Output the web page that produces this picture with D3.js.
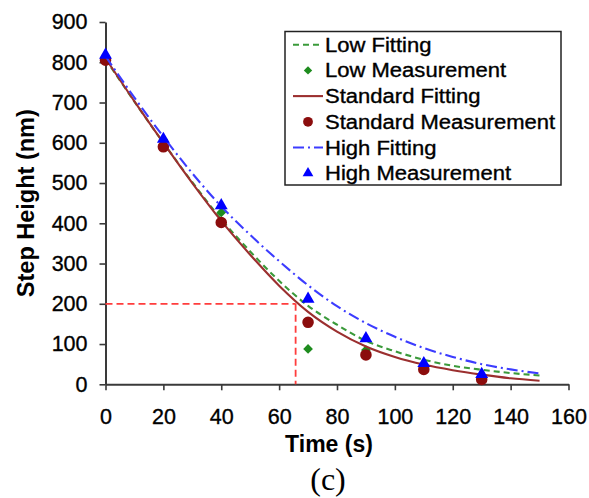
<!DOCTYPE html>
<html>
<head>
<meta charset="utf-8">
<script src="https://cdn.jsdelivr.net/npm/d3@7"></script>
<style>
  html, body { margin: 0; padding: 0; background: #fff; }
  svg { display: block; }
  text { font-family: "Liberation Sans", Arial, Helvetica, sans-serif; fill: #000; }
  .heavy { stroke: #000; stroke-width: 0.35px; }
</style>
</head>
<body>
<svg id="chart" width="589" height="498"></svg>
<script>
// ---- data ----
const xTicks = [0, 20, 40, 60, 80, 100, 120, 140, 160];
const yTicks = [0, 100, 200, 300, 400, 500, 600, 700, 800, 900];

const fitTime = [0, 10, 20, 30, 40, 50, 60, 70, 80, 90, 100, 110, 120, 130, 140, 150];
const lowFit = [808, 702, 600, 502, 410, 330, 257, 195, 148, 108, 82, 61, 46, 36, 28, 22];
const standardFit = [810, 703, 600, 500, 406, 322, 245, 180, 131, 94, 68, 49, 35, 24, 15, 9];
const highFit = [815, 712, 615, 524, 442, 371, 306, 246, 194, 152, 118, 90, 68, 50, 37, 27];

const measTime = [0, 20, 40, 70, 90, 110, 130];
const lowMeas = [803, 607, 427, 88, 85, 45, 18];
const standardMeas = [805, 590, 402, 154, 73, 37, 12];
const highMeas = [818, 609, 444, 212, 114, 52, 25];

const guideTime = 65.7;
const guideHeight = 200;

const legendLabels = ["Low Fitting", "Low Measurement", "Standard Fitting",
                      "Standard Measurement", "High Fitting", "High Measurement"];

// ---- styles ----
const C = {
  lowLine: "#3a9a3a", lowMark: "#1e8c1e",
  stdLine: "#9b2f2f", stdMark: "#8b0d0d",
  highLine: "#3c3cff", highMark: "#0000ff",
  guide: "#ff3d3d", axis: "#3a3a3a"
};
const DASH = { low: "6,4", std: null, high: "11,4,2,4" };

const svg = d3.select("#chart");
const x = d3.scaleLinear().domain([0, 160]).range([105.5, 568.5]);
const y = d3.scaleLinear().domain([0, 900]).range([384.3, 22]);

// ---- axes ----
const xAxis = svg.append("g")
  .attr("transform", `translate(0,${y(0)})`)
  .call(d3.axisBottom(x).tickValues(xTicks).tickSize(6).tickSizeOuter(0).tickPadding(18).tickFormat(d3.format("d")));
const yAxis = svg.append("g")
  .attr("transform", `translate(${x(0)},0)`)
  .call(d3.axisLeft(y).tickValues(yTicks).tickSize(6).tickSizeOuter(0).tickPadding(12).tickFormat(d3.format("d")));
[xAxis, yAxis].forEach(g => {
  g.attr("font-size", 21.5).attr("font-family", '"Liberation Sans", Arial, sans-serif');
  g.select(".domain").attr("stroke", C.axis).attr("stroke-width", 2);
  g.selectAll(".tick line").attr("stroke", C.axis).attr("stroke-width", 1.6);
  g.selectAll(".tick text").attr("font-size", 21.5).attr("fill", "#000").attr("class", "heavy");
});
xAxis.selectAll(".tick text").attr("dy", "0.71em");

// ---- guide lines ----
svg.append("line")
  .attr("x1", x(0)).attr("x2", x(guideTime)).attr("y1", y(guideHeight)).attr("y2", y(guideHeight))
  .attr("stroke", C.guide).attr("stroke-width", 1.8).attr("stroke-dasharray", "7,4");
svg.append("line")
  .attr("x1", x(guideTime)).attr("x2", x(guideTime)).attr("y1", y(guideHeight)).attr("y2", y(0))
  .attr("stroke", C.guide).attr("stroke-width", 1.8).attr("stroke-dasharray", "7,4");

// ---- series ----
const line = d3.line().x(d => x(d[0])).y(d => y(d[1])).curve(d3.curveMonotoneX);
function drawFit(vals, color, dash) {
  svg.append("path")
    .datum(fitTime.map((t, i) => [t, vals[i]]))
    .attr("d", line).attr("fill", "none")
    .attr("stroke", color).attr("stroke-width", 2.1)
    .attr("stroke-dasharray", dash);
}
function drawMarks(vals, color, type, size) {
  svg.append("g").selectAll("path")
    .data(measTime.map((t, i) => [t, vals[i]]))
    .join("path")
    .attr("transform", d => `translate(${x(d[0])},${y(d[1])})`)
    .attr("d", d3.symbol().type(type).size(size))
    .attr("fill", color);
}

drawFit(lowFit, C.lowLine, DASH.low);
drawMarks(lowMeas, C.lowMark, d3.symbolDiamond2, 60);
drawFit(standardFit, C.stdLine, DASH.std);
drawMarks(standardMeas, C.stdMark, d3.symbolCircle, 105);
drawFit(highFit, C.highLine, DASH.high);
drawMarks(highMeas, C.highMark, d3.symbolTriangle, 72);

// ---- legend ----
const lg = svg.append("g");
lg.append("rect").attr("x", 285).attr("y", 31.5).attr("width", 276).attr("height", 153.5)
  .attr("fill", "#fff").attr("stroke", "#222").attr("stroke-width", 1.5);
const rowBase = 51.7, rowStep = 25.7;
const legendKinds = [
  { kind: "line", color: C.lowLine, dash: DASH.low },
  { kind: "mark", color: C.lowMark, type: d3.symbolDiamond2, size: 45 },
  { kind: "line", color: C.stdLine, dash: DASH.std },
  { kind: "mark", color: C.stdMark, type: d3.symbolCircle, size: 75 },
  { kind: "line", color: C.highLine, dash: DASH.high },
  { kind: "mark", color: C.highMark, type: d3.symbolTriangle, size: 50 }
];
legendLabels.forEach((label, i) => {
  const by = rowBase + i * rowStep;
  const cy = by - 7;
  const k = legendKinds[i];
  if (k.kind === "line") {
    lg.append("line").attr("x1", 293).attr("x2", 323).attr("y1", cy).attr("y2", cy)
      .attr("stroke", k.color).attr("stroke-width", 2.1).attr("stroke-dasharray", k.dash);
  } else {
    lg.append("path").attr("transform", `translate(308,${cy})`)
      .attr("d", d3.symbol().type(k.type).size(k.size)).attr("fill", k.color);
  }
  lg.append("text")
    .attr("class", "heavy")
    .attr("transform", `translate(325,${by}) scale(1.13,1)`)
    .attr("font-size", 19.5).text(label);
});

// ---- titles ----
svg.append("text").attr("x", (x(0) + x(160)) / 2 - 8).attr("y", 452)
  .attr("text-anchor", "middle").attr("font-size", 23).attr("font-weight", "bold")
  .text("Time (s)");
svg.append("text")
  .attr("transform", `translate(26,${(y(0) + y(900)) / 2}) rotate(-90)`)
  .attr("text-anchor", "middle").attr("dy", "0.35em")
  .attr("font-size", 23.5).attr("font-weight", "bold")
  .text("Step Height (nm)");
svg.append("text").attr("x", 328).attr("y", 490)
  .attr("text-anchor", "middle").attr("font-size", 32)
  .style("font-family", '"Liberation Serif", "Times New Roman", serif')
  .text("(c)");
</script>
</body>
</html>
